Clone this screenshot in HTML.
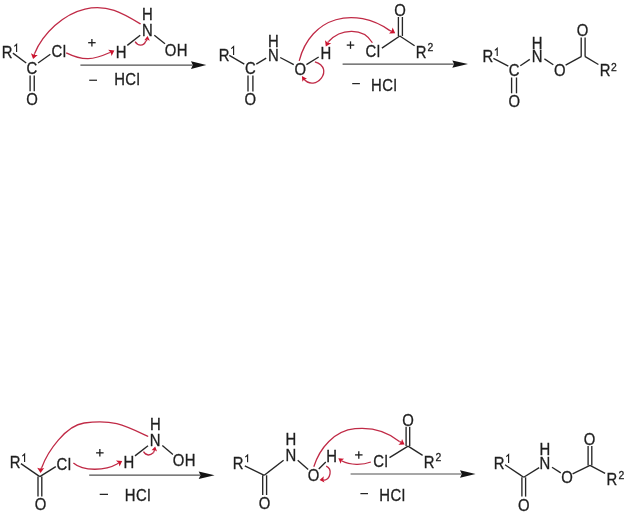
<!DOCTYPE html>
<html><head><meta charset="utf-8"><style>
html,body{margin:0;padding:0;background:#fff;width:626px;height:512px;overflow:hidden}
svg{display:block}
text{stroke:#1e1e1e;stroke-width:0.3px}
</style></head><body>
<svg width="626" height="512" viewBox="0 0 626 512" font-family="Liberation Sans, sans-serif" fill="#1e1e1e">
<defs><filter id="gs" x="0" y="0" width="626" height="512" filterUnits="userSpaceOnUse"><feColorMatrix type="saturate" values="0"/></filter></defs>
<g style="filter:url(#gs)">
<text transform="translate(1.81,58.34) scale(0.96,1.06)" font-size="15.5">R</text>
<text transform="translate(26.60,73.64) scale(0.96,1.06)" font-size="15.5">C</text>
<text transform="translate(51.48,56.77) scale(0.96,1.06)" font-size="15.5" letter-spacing="0.5">Cl</text>
<text transform="translate(26.24,104.99) scale(0.96,1.06)" font-size="15.5">O</text>
<text transform="translate(115.83,57.69) scale(0.96,1.06)" font-size="15.5">H</text>
<text transform="translate(141.93,35.79) scale(0.96,1.06)" font-size="15.5">N</text>
<text transform="translate(141.93,19.79) scale(0.96,1.06)" font-size="15.5">H</text>
<text transform="translate(164.76,56.04) scale(0.96,1.06)" font-size="15.5" letter-spacing="0.5">OH</text>
<text transform="translate(114.15,85.48) scale(0.96,1.06)" font-size="15.5" letter-spacing="0.5">HCl</text>
<text transform="translate(218.71,61.24) scale(0.96,1.06)" font-size="15.5">R</text>
<text transform="translate(245.05,74.19) scale(0.96,1.06)" font-size="15.5">C</text>
<text transform="translate(267.93,47.34) scale(0.96,1.06)" font-size="15.5">H</text>
<text transform="translate(267.93,60.89) scale(0.96,1.06)" font-size="15.5">N</text>
<text transform="translate(244.39,105.09) scale(0.96,1.06)" font-size="15.5">O</text>
<text transform="translate(294.44,74.74) scale(0.96,1.06)" font-size="15.5">O</text>
<text transform="translate(320.43,58.84) scale(0.96,1.06)" font-size="15.5">H</text>
<text transform="translate(365.62,56.98) scale(0.96,1.06)" font-size="15.5" letter-spacing="0.5">Cl</text>
<text transform="translate(394.24,16.04) scale(0.96,1.06)" font-size="15.5">O</text>
<text transform="translate(415.71,57.89) scale(0.96,1.06)" font-size="15.5">R</text>
<text transform="translate(427.48,51.25) scale(0.96,1.06)" font-size="10.8">2</text>
<text transform="translate(370.95,91.28) scale(0.96,1.06)" font-size="15.5" letter-spacing="0.5">HCl</text>
<text transform="translate(482.56,62.34) scale(0.96,1.06)" font-size="15.5">R</text>
<text transform="translate(508.85,75.79) scale(0.96,1.06)" font-size="15.5">C</text>
<text transform="translate(531.73,48.89) scale(0.96,1.06)" font-size="15.5">H</text>
<text transform="translate(531.73,62.39) scale(0.96,1.06)" font-size="15.5">N</text>
<text transform="translate(508.39,106.89) scale(0.96,1.06)" font-size="15.5">O</text>
<text transform="translate(553.94,75.64) scale(0.96,1.06)" font-size="15.5">O</text>
<text transform="translate(576.79,36.04) scale(0.96,1.06)" font-size="15.5">O</text>
<text transform="translate(599.71,75.94) scale(0.96,1.06)" font-size="15.5">R</text>
<text transform="translate(611.08,70.60) scale(0.96,1.06)" font-size="10.8">2</text>
<text transform="translate(9.81,468.29) scale(0.96,1.06)" font-size="15.5">R</text>
<text transform="translate(56.48,469.72) scale(0.96,1.06)" font-size="15.5" letter-spacing="0.5">Cl</text>
<text transform="translate(34.84,510.24) scale(0.96,1.06)" font-size="15.5">O</text>
<text transform="translate(123.62,467.64) scale(0.96,1.06)" font-size="15.5">H</text>
<text transform="translate(149.82,446.14) scale(0.96,1.06)" font-size="15.5">N</text>
<text transform="translate(150.07,430.04) scale(0.96,1.06)" font-size="15.5">H</text>
<text transform="translate(172.81,465.99) scale(0.96,1.06)" font-size="15.5" letter-spacing="0.5">OH</text>
<text transform="translate(124.85,500.88) scale(0.96,1.06)" font-size="15.5" letter-spacing="0.5">HCl</text>
<text transform="translate(232.81,468.99) scale(0.96,1.06)" font-size="15.5">R</text>
<text transform="translate(285.48,444.84) scale(0.96,1.06)" font-size="15.5">H</text>
<text transform="translate(285.48,461.04) scale(0.96,1.06)" font-size="15.5">N</text>
<text transform="translate(258.69,509.14) scale(0.96,1.06)" font-size="15.5">O</text>
<text transform="translate(307.84,480.99) scale(0.96,1.06)" font-size="15.5">O</text>
<text transform="translate(326.27,461.84) scale(0.96,1.06)" font-size="15.5">H</text>
<text transform="translate(373.27,466.88) scale(0.96,1.06)" font-size="15.5" letter-spacing="0.5">Cl</text>
<text transform="translate(402.19,425.59) scale(0.96,1.06)" font-size="15.5">O</text>
<text transform="translate(423.81,467.84) scale(0.96,1.06)" font-size="15.5">R</text>
<text transform="translate(435.38,461.40) scale(0.96,1.06)" font-size="10.8">2</text>
<text transform="translate(379.20,501.17) scale(0.96,1.06)" font-size="15.5" letter-spacing="0.5">HCl</text>
<text transform="translate(493.71,468.89) scale(0.96,1.06)" font-size="15.5">R</text>
<text transform="translate(539.62,455.29) scale(0.96,1.06)" font-size="15.5">H</text>
<text transform="translate(539.38,469.04) scale(0.96,1.06)" font-size="15.5">N</text>
<text transform="translate(517.94,510.69) scale(0.96,1.06)" font-size="15.5">O</text>
<text transform="translate(561.19,483.34) scale(0.96,1.06)" font-size="15.5">O</text>
<text transform="translate(583.69,445.19) scale(0.96,1.06)" font-size="15.5">O</text>
<text transform="translate(606.61,484.59) scale(0.96,1.06)" font-size="15.5">R</text>
<text transform="translate(618.38,478.75) scale(0.96,1.06)" font-size="10.8">2</text>
</g>
<path d="M16.60,52.10 V44.30 L14.30,46.40" fill="none" stroke="#1e1e1e" stroke-width="1.15" stroke-linejoin="miter"/>
<line x1="12.9" y1="53.1" x2="26.2" y2="63" stroke="#262626" stroke-width="1.35"/>
<line x1="38.05" y1="63" x2="50.35" y2="54.2" stroke="#262626" stroke-width="1.35"/>
<line x1="30.1" y1="75.5" x2="30.1" y2="91.3" stroke="#262626" stroke-width="1.35"/>
<line x1="34.25" y1="75.5" x2="34.25" y2="91.3" stroke="#262626" stroke-width="1.35"/>
<line x1="88.15" y1="42.7" x2="95.65" y2="42.7" stroke="#1e1e1e" stroke-width="1.3"/>
<line x1="91.9" y1="38.95" x2="91.9" y2="46.45" stroke="#1e1e1e" stroke-width="1.3"/>
<line x1="127.3" y1="45.4" x2="140.2" y2="35.2" stroke="#262626" stroke-width="1.35"/>
<line x1="154.3" y1="35.2" x2="165" y2="43.8" stroke="#262626" stroke-width="1.35"/>
<line x1="80.4" y1="65.1" x2="192.5" y2="65.1" stroke="#505050" stroke-width="1.2"/>
<path d="M206.3,65.1 L191,61.3 L192.8,65.1 L191,68.89999999999999 Z" fill="#141414"/>
<line x1="89.2" y1="80.25" x2="97.0" y2="80.25" stroke="#262626" stroke-width="1.25"/>
<path d="M140.6,24 C122.1,12.9 107.4,4.0 85.0,9.1 C63.4,14.0 43.0,33.4 34.6,53.5" fill="none" stroke="#c02a46" stroke-width="1.3"/>
<path d="M34.60,53.50 L34.11,55.06" stroke="#c02a46" stroke-width="1.3"/>
<path d="M33.10,59.10 L30.97,53.21 L34.11,55.06 L37.76,54.90 Z" fill="#cc1530"/>
<path d="M66.2,52.9 C83.5,61.2 92.7,60.2 109.9,52.5" fill="none" stroke="#c02a46" stroke-width="1.3"/>
<path d="M109.90,52.50 L110.75,52.40" stroke="#c02a46" stroke-width="1.3"/>
<path d="M114.40,50.40 L111.53,55.97 L110.75,52.40 L108.16,49.84 Z" fill="#cc1530"/>
<path d="M135.1,41.7 C137.8,46.1 143.6,46.7 145.7,41.3" fill="none" stroke="#c02a46" stroke-width="1.3"/>
<path d="M145.70,41.30 L147.16,39.55" stroke="#c02a46" stroke-width="1.3"/>
<path d="M147.60,35.90 L149.83,40.80 L147.16,39.55 L144.27,40.13 Z" fill="#cc1530"/>
<path d="M233.60,54.90 V46.50 L231.30,48.60" fill="none" stroke="#1e1e1e" stroke-width="1.15" stroke-linejoin="miter"/>
<line x1="229.3" y1="55.3" x2="244.3" y2="64.2" stroke="#262626" stroke-width="1.35"/>
<line x1="256.3" y1="64.2" x2="266.2" y2="58.2" stroke="#262626" stroke-width="1.35"/>
<line x1="248.0" y1="75.5" x2="248.0" y2="91.4" stroke="#262626" stroke-width="1.35"/>
<line x1="252.9" y1="75.5" x2="252.9" y2="91.4" stroke="#262626" stroke-width="1.35"/>
<line x1="280.2" y1="57.5" x2="293.75" y2="64.6" stroke="#262626" stroke-width="1.35"/>
<line x1="306.4" y1="64.6" x2="318.7" y2="57" stroke="#262626" stroke-width="1.35"/>
<line x1="346.75" y1="45.1" x2="354.25" y2="45.1" stroke="#1e1e1e" stroke-width="1.3"/>
<line x1="350.5" y1="41.35" x2="350.5" y2="48.85" stroke="#1e1e1e" stroke-width="1.3"/>
<line x1="381.9" y1="48.1" x2="399.8" y2="36.0" stroke="#262626" stroke-width="1.35"/>
<line x1="399.8" y1="36.0" x2="414.6" y2="45.8" stroke="#262626" stroke-width="1.35"/>
<line x1="398.4" y1="17.0" x2="398.4" y2="36.0" stroke="#262626" stroke-width="1.35"/>
<line x1="402.4" y1="17.0" x2="402.4" y2="36.0" stroke="#262626" stroke-width="1.35"/>
<line x1="342.6" y1="64.1" x2="453.8" y2="64.1" stroke="#505050" stroke-width="1.2"/>
<path d="M468,64.1 L452.3,60.39999999999999 L454.1,64.1 L452.3,67.8 Z" fill="#141414"/>
<line x1="352.2" y1="83.6" x2="359.90000000000003" y2="83.6" stroke="#262626" stroke-width="1.25"/>
<path d="M299.2,60.8 C310.9,16.1 355.0,6.1 389.9,30.6" fill="none" stroke="#c02a46" stroke-width="1.3"/>
<path d="M389.90,30.60 L391.66,31.11" stroke="#c02a46" stroke-width="1.3"/>
<path d="M395.20,33.30 L388.94,33.53 L391.66,31.11 L392.62,27.59 Z" fill="#cc1530"/>
<path d="M372.4,42.75 C363.0,26.5 339.9,28.9 328.6,41.5" fill="none" stroke="#c02a46" stroke-width="1.3"/>
<path d="M328.60,41.50 L327.66,42.68" stroke="#c02a46" stroke-width="1.3"/>
<path d="M325.80,46.40 L325.00,40.18 L327.66,42.68 L331.26,43.31 Z" fill="#cc1530"/>
<path d="M314.9,61.8 C335.6,68.1 315.2,93.4 303.5,78.5" fill="none" stroke="#c02a46" stroke-width="1.3"/>
<path d="M303.50,78.50 L304.13,79.42" stroke="#c02a46" stroke-width="1.3"/>
<path d="M301.90,76.10 L306.97,78.72 L304.13,79.42 L302.40,81.78 Z" fill="#cc1530"/>
<path d="M497.20,55.90 V48.30 L494.90,50.40" fill="none" stroke="#1e1e1e" stroke-width="1.15" stroke-linejoin="miter"/>
<line x1="493.4" y1="58.3" x2="508.3" y2="66.1" stroke="#262626" stroke-width="1.35"/>
<line x1="520.3" y1="65.8" x2="529.8" y2="59.35" stroke="#262626" stroke-width="1.35"/>
<line x1="511.6" y1="77.5" x2="511.6" y2="93.3" stroke="#262626" stroke-width="1.35"/>
<line x1="516.5" y1="77.5" x2="516.5" y2="93.3" stroke="#262626" stroke-width="1.35"/>
<line x1="544.4" y1="58.9" x2="553.3" y2="64.7" stroke="#262626" stroke-width="1.35"/>
<line x1="565.6" y1="65.1" x2="581.6" y2="56.4" stroke="#262626" stroke-width="1.35"/>
<line x1="581.2" y1="37.6" x2="581.2" y2="56.3" stroke="#262626" stroke-width="1.35"/>
<line x1="585.1" y1="37.6" x2="585.1" y2="56.3" stroke="#262626" stroke-width="1.35"/>
<line x1="584.8" y1="56.4" x2="598.4" y2="64.5" stroke="#262626" stroke-width="1.35"/>
<path d="M24.60,462.10 V454.10 L22.30,456.20" fill="none" stroke="#1e1e1e" stroke-width="1.15" stroke-linejoin="miter"/>
<line x1="20.9" y1="463.6" x2="39.8" y2="476.6" stroke="#262626" stroke-width="1.35"/>
<line x1="39.8" y1="476.6" x2="55.8" y2="466.6" stroke="#262626" stroke-width="1.35"/>
<line x1="38.0" y1="476.6" x2="38.0" y2="496.5" stroke="#262626" stroke-width="1.35"/>
<line x1="41.8" y1="476.6" x2="41.8" y2="496.5" stroke="#262626" stroke-width="1.35"/>
<line x1="96.1" y1="452.85" x2="103.6" y2="452.85" stroke="#1e1e1e" stroke-width="1.3"/>
<line x1="99.85" y1="449.1" x2="99.85" y2="456.6" stroke="#1e1e1e" stroke-width="1.3"/>
<line x1="135.0" y1="455.9" x2="148.0" y2="445.7" stroke="#262626" stroke-width="1.35"/>
<line x1="162.3" y1="445.6" x2="172.9" y2="454.4" stroke="#262626" stroke-width="1.35"/>
<line x1="89.2" y1="475.2" x2="200.2" y2="475.2" stroke="#505050" stroke-width="1.2"/>
<path d="M214.6,475.2 L198.7,471.45 L200.5,475.2 L198.7,478.95 Z" fill="#141414"/>
<line x1="99.7" y1="494.35" x2="108.0" y2="494.35" stroke="#262626" stroke-width="1.25"/>
<path d="M148.2,436.5 C123.7,424.9 113.3,419.2 84.1,423.0 C65.9,425.4 47.6,451.3 41.8,467.5" fill="none" stroke="#c02a46" stroke-width="1.3"/>
<path d="M41.80,467.50 L40.67,468.84" stroke="#c02a46" stroke-width="1.3"/>
<path d="M40.55,473.00 L37.21,467.70 L40.67,468.84 L44.20,467.91 Z" fill="#cc1530"/>
<path d="M73.4,463 C83.5,471.8 106.0,470.5 117,464" fill="none" stroke="#c02a46" stroke-width="1.3"/>
<path d="M117.00,464.00 L118.63,463.04" stroke="#c02a46" stroke-width="1.3"/>
<path d="M122.20,460.90 L119.54,466.58 L118.63,463.04 L115.94,460.57 Z" fill="#cc1530"/>
<path d="M143.5,451.7 C146.3,456.2 150.0,455.7 153.6,452.5" fill="none" stroke="#c02a46" stroke-width="1.3"/>
<path d="M153.60,452.50 L154.48,450.01" stroke="#c02a46" stroke-width="1.3"/>
<path d="M155.20,446.40 L157.04,451.46 L154.48,450.01 L151.55,450.36 Z" fill="#cc1530"/>
<path d="M247.60,462.30 V455.10 L245.30,457.20" fill="none" stroke="#1e1e1e" stroke-width="1.15" stroke-linejoin="miter"/>
<line x1="244.8" y1="465.8" x2="264.3" y2="475.3" stroke="#262626" stroke-width="1.35"/>
<line x1="264.3" y1="475.3" x2="283.6" y2="460.3" stroke="#262626" stroke-width="1.35"/>
<line x1="262.7" y1="475.3" x2="262.7" y2="495.0" stroke="#262626" stroke-width="1.35"/>
<line x1="266.6" y1="475.3" x2="266.6" y2="495.0" stroke="#262626" stroke-width="1.35"/>
<line x1="297.7" y1="460.3" x2="308.2" y2="469.4" stroke="#262626" stroke-width="1.35"/>
<line x1="318.75" y1="469.0" x2="325.8" y2="462.0" stroke="#262626" stroke-width="1.35"/>
<line x1="355.05" y1="454.9" x2="362.55" y2="454.9" stroke="#1e1e1e" stroke-width="1.3"/>
<line x1="358.8" y1="451.15" x2="358.8" y2="458.65" stroke="#1e1e1e" stroke-width="1.3"/>
<line x1="389.5" y1="457.6" x2="408.1" y2="446.1" stroke="#262626" stroke-width="1.35"/>
<line x1="408.1" y1="446.1" x2="422.6" y2="455.4" stroke="#262626" stroke-width="1.35"/>
<line x1="406.1" y1="426.8" x2="406.1" y2="446.1" stroke="#262626" stroke-width="1.35"/>
<line x1="409.7" y1="426.8" x2="409.7" y2="446.1" stroke="#262626" stroke-width="1.35"/>
<line x1="350.6" y1="474.0" x2="461.5" y2="474.0" stroke="#505050" stroke-width="1.2"/>
<path d="M475.6,474.0 L460.0,470.25 L461.8,474.0 L460.0,477.75 Z" fill="#141414"/>
<line x1="360.4" y1="493.6" x2="368.0" y2="493.6" stroke="#262626" stroke-width="1.25"/>
<path d="M313.8,466.8 C319.6,448.0 334.4,430.7 355.0,428.7 C372.0,427.0 386.0,430.6 399.4,441.4" fill="none" stroke="#c02a46" stroke-width="1.3"/>
<path d="M399.40,441.40 L401.06,442.41" stroke="#c02a46" stroke-width="1.3"/>
<path d="M404.60,444.60 L398.34,444.83 L401.06,442.41 L402.02,438.89 Z" fill="#cc1530"/>
<path d="M370.9,462 C362.4,465.2 350.2,465.2 342,461" fill="none" stroke="#c02a46" stroke-width="1.3"/>
<path d="M342.00,461.00 L341.58,460.59" stroke="#c02a46" stroke-width="1.3"/>
<path d="M338.30,458.30 L344.12,458.71 L341.58,460.59 L340.68,463.63 Z" fill="#cc1530"/>
<path d="M326.2,466.1 C332.8,469.2 330.4,478.8 324.2,480.3" fill="none" stroke="#c02a46" stroke-width="1.3"/>
<path d="M324.20,480.30 L323.26,479.53" stroke="#c02a46" stroke-width="1.3"/>
<path d="M319.60,479.90 L323.87,476.36 L323.26,479.53 L324.49,482.53 Z" fill="#cc1530"/>
<path d="M508.60,462.90 V454.50 L506.30,456.60" fill="none" stroke="#1e1e1e" stroke-width="1.15" stroke-linejoin="miter"/>
<line x1="505.0" y1="464.8" x2="523.7" y2="477.3" stroke="#262626" stroke-width="1.35"/>
<line x1="523.7" y1="477.3" x2="539.2" y2="467.6" stroke="#262626" stroke-width="1.35"/>
<line x1="521.9" y1="477.3" x2="521.9" y2="496.6" stroke="#262626" stroke-width="1.35"/>
<line x1="525.6" y1="477.3" x2="525.6" y2="496.6" stroke="#262626" stroke-width="1.35"/>
<line x1="552.0" y1="467.25" x2="560.75" y2="472.9" stroke="#262626" stroke-width="1.35"/>
<line x1="572.6" y1="473.8" x2="590.0" y2="465.4" stroke="#262626" stroke-width="1.35"/>
<line x1="588.1" y1="446.0" x2="588.1" y2="465.4" stroke="#262626" stroke-width="1.35"/>
<line x1="591.8" y1="446.0" x2="591.8" y2="465.4" stroke="#262626" stroke-width="1.35"/>
<line x1="590.0" y1="465.4" x2="605.1" y2="473.3" stroke="#262626" stroke-width="1.35"/>
</svg></body></html>
